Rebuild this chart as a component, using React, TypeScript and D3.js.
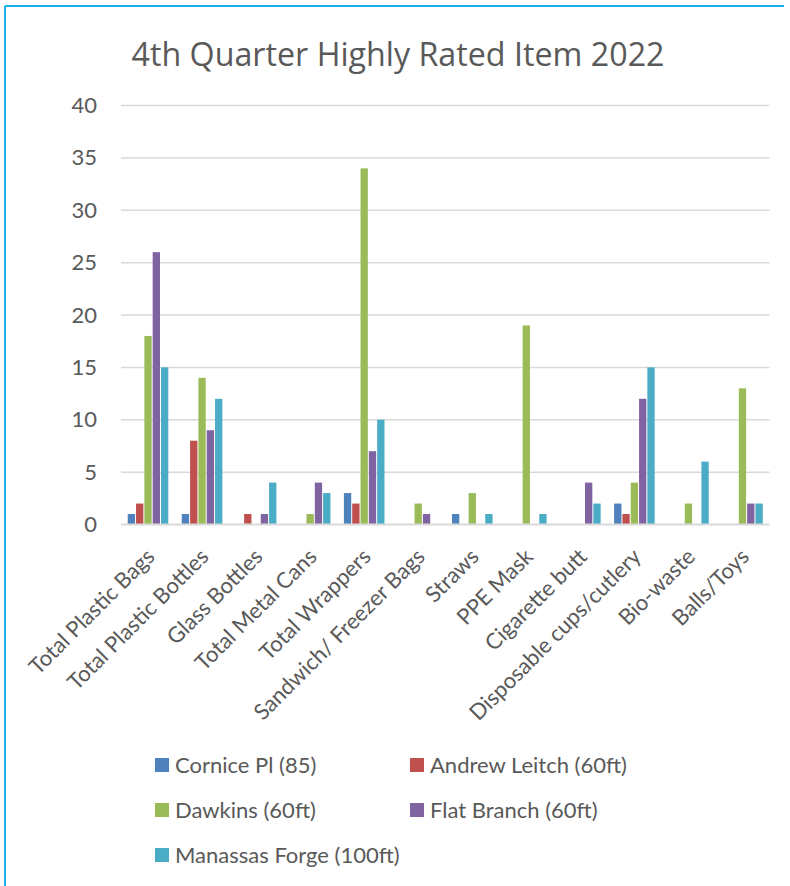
import React from "react";
import * as d3 from "d3";

const categories = [
  "Total Plastic Bags",
  "Total Plastic Bottles",
  "Glass Bottles",
  "Total Metal Cans",
  "Total Wrappers",
  "Sandwich/ Freezer Bags",
  "Straws",
  "PPE Mask",
  "Cigarette butt",
  "Disposable cups/cutlery",
  "Bio-waste",
  "Balls/Toys",
];

const seriesNames = [
  "Cornice Pl (85)",
  "Andrew Leitch (60ft)",
  "Dawkins (60ft)",
  "Flat Branch (60ft)",
  "Manassas Forge (100ft)",
];

const cornice = [1, 1, 0, 0, 3, 0, 1, 0, 0, 2, 0, 0];
const andrew = [2, 8, 1, 0, 2, 0, 0, 0, 0, 1, 0, 0];
const dawkins = [18, 14, 0, 1, 34, 2, 3, 19, 0, 4, 2, 13];
const flatBranch = [26, 9, 1, 4, 7, 1, 0, 0, 4, 12, 0, 2];
const manassas = [15, 12, 4, 3, 10, 0, 1, 1, 2, 15, 6, 2];

const seriesValues = [cornice, andrew, dawkins, flatBranch, manassas];
const colors = ["#4F81BD", "#C0504D", "#9BBB59", "#8064A2", "#4BACC6"];
const yTicks = [0, 5, 10, 15, 20, 25, 30, 35, 40];

const W = 790;
const H = 886;
const left = 121;
const right = 769.5;
const top = 105.5;
const bottom = 524.5;
const font = "Lato, 'Open Sans', sans-serif";
const textColor = "#595959";

export default function App() {
  const x = d3.scaleBand<string>().domain(categories).range([left, right]).paddingInner(0).paddingOuter(0);
  const y = d3.scaleLinear().domain([0, 40]).range([bottom, top]);
  const bw = x.bandwidth();
  const inner = d3
    .scaleBand<number>()
    .domain(d3.range(seriesNames.length))
    .range([0, bw])
    .paddingInner(0)
    .paddingOuter(0.75);
  const step = inner.step();

  const legendPos = [
    { x: 155, y: 758 },
    { x: 410, y: 758 },
    { x: 155, y: 803 },
    { x: 410, y: 803 },
    { x: 155, y: 848 },
  ];

  return (
    <svg
      width={W}
      height={H}
      style={{ position: "absolute", left: 0, top: 0, background: "#fff" }}
      fontFamily={font}
    >
      <rect x={0} y={0} width={W} height={H} fill="#fff" />
      <line x1={5} x2={784} y1={6} y2={6} stroke="#1FB1EC" strokeWidth={2} />
      <line x1={5} x2={5} y1={6} y2={H} stroke="#1FB1EC" strokeWidth={2} />

      <text
        x={398}
        y={66}
        textAnchor="middle"
        fontSize={33}
        fill={textColor}
        fontFamily="'Open Sans', sans-serif"
        textLength={533}
        lengthAdjust="spacingAndGlyphs"
      >
        4th Quarter Highly Rated Item 2022
      </text>

      {yTicks.map((t) => (
        <g key={t}>
          {t !== 0 && (
            <line x1={left} x2={right} y1={y(t)} y2={y(t)} stroke="#D9D9D9" strokeWidth={1.5} />
          )}
          <text x={97} y={y(t) + 7.5} textAnchor="end" fontSize={22} fill={textColor}>
            {t}
          </text>
        </g>
      ))}

      {seriesValues.map((vals, si) => (
        <g key={si} fill={colors[si]}>
          {vals.map((v, ci) =>
            v > 0 ? (
              <rect
                key={ci}
                x={(x(categories[ci]) as number) + (inner(si) as number) + 0.5}
                y={y(v)}
                width={step - 1}
                height={y(0) - y(v)}
              />
            ) : null
          )}
        </g>
      ))}

      <line x1={left} x2={right} y1={y(0)} y2={y(0)} stroke="#D9D9D9" strokeWidth={2} />

      {categories.map((c) => {
        const cx = (x(c) as number) + bw / 2 + 8;
        const cy = 558;
        return (
          <text
            key={c}
            x={cx}
            y={cy}
            textAnchor="end"
            fontSize={22}
            fill={textColor}
            transform={`rotate(-45 ${cx} ${cy})`}
          >
            {c}
          </text>
        );
      })}

      {seriesNames.map((n, i) => (
        <g key={n}>
          <rect x={legendPos[i].x} y={legendPos[i].y} width={14} height={14} fill={colors[i]} />
          <text x={legendPos[i].x + 20} y={legendPos[i].y + 15} fontSize={22} fill={textColor}>
            {n}
          </text>
        </g>
      ))}
    </svg>
  );
}
